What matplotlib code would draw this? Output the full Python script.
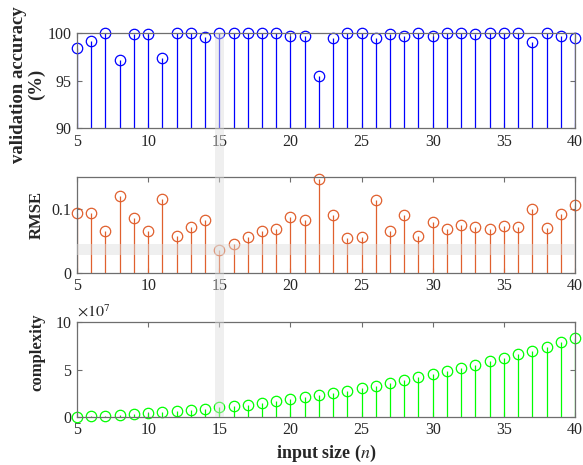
import matplotlib
matplotlib.use("Agg")
import matplotlib.pyplot as plt
from matplotlib.patches import Rectangle
from matplotlib.transforms import blended_transform_factory

# ------------------------------
# Data
# ------------------------------
input_size = list(range(5, 41))

accuracy = [98.4, 99.2, 100.0, 97.2, 99.9, 99.9, 97.4, 100.0, 100.0, 99.6,
            100.0, 100.0, 100.0, 100.0, 100.0, 99.7, 99.7, 95.5, 99.5, 100.0,
            100.0, 99.5, 99.9, 99.65, 100.0, 99.7, 100.0, 100.0, 99.9, 100.0,
            100.0, 100.0, 99.1, 100.0, 99.7, 99.45]

rmse = [0.093, 0.094, 0.065, 0.121, 0.085, 0.066, 0.115, 0.057, 0.071, 0.083,
        0.036, 0.045, 0.056, 0.066, 0.068, 0.088, 0.083, 0.147, 0.090, 0.055,
        0.056, 0.114, 0.066, 0.091, 0.057, 0.080, 0.068, 0.075, 0.072, 0.068,
        0.073, 0.072, 0.100, 0.070, 0.092, 0.106]

# complexity in units of 1e7
complexity = [0.0, 0.03, 0.07, 0.14, 0.28, 0.39, 0.50, 0.60, 0.71, 0.85,
              0.99, 1.10, 1.27, 1.48, 1.66, 1.90, 2.05, 2.26, 2.47, 2.76,
              3.00, 3.29, 3.57, 3.89, 4.20, 4.49, 4.84, 5.12, 5.51, 5.87,
              6.22, 6.64, 7.00, 7.42, 7.88, 8.30]

best_n = 15
rmse_band = (0.028, 0.045)

plt.rcParams["font.family"] = ["Liberation Serif", "DejaVu Serif"]
plt.rcParams["mathtext.fontset"] = "stix"

AXIS_COLOR = "#6e6e6e"
TEXT_COLOR = "#262626"
BAND_COLOR = "#dcdcdc"

W, H = 583, 465
fig = plt.figure(figsize=(W / 100, H / 100), dpi=100)


def make_axes(top_px, bottom_px):
    left, right = 77 / W, 575 / W
    return fig.add_axes([left, 1 - bottom_px / H, right - left, (bottom_px - top_px) / H])


def style_axes(ax):
    ax.set_xlim(5, 40)
    ax.set_xticks(range(5, 41, 5))
    for s in ax.spines.values():
        s.set_color(AXIS_COLOR)
        s.set_linewidth(0.9)
    ax.tick_params(direction="in", top=True, right=True, length=3.5,
                   width=0.8, color=AXIS_COLOR, labelsize=11.5,
                   labelcolor=TEXT_COLOR, pad=4)


def draw_stem(ax, x, y, color, bottom):
    markers, stems, base = ax.stem(x, y, bottom=bottom, basefmt=" ")
    plt.setp(stems, color=color, linewidth=0.9)
    plt.setp(markers, color=color, marker="o", markersize=7.5,
             markerfacecolor="none", markeredgewidth=0.9, clip_on=False)
    base.set_visible(False)


ax1 = make_axes(33, 128)
ax2 = make_axes(177, 272.7)
ax3 = make_axes(322.3, 416.7)

draw_stem(ax1, input_size, accuracy, "#0000ff", 90)
ax1.set_ylim(90, 100)
ax1.set_yticks([90, 95, 100])
style_axes(ax1)
ax1.set_ylabel("validation accuracy\n(%)", fontsize=13.5, fontweight="bold",
               color=TEXT_COLOR, linespacing=1.05)
ax1.yaxis.set_label_coords(-0.064, 0.46)

draw_stem(ax2, input_size, rmse, "#e0602e", 0)
ax2.set_ylim(0, 0.15)
ax2.set_yticks([0, 0.1])
ax2.set_yticklabels(["0", "0.1"])
style_axes(ax2)
ax2.set_ylabel("RMSE", fontsize=12, fontweight="bold", color=TEXT_COLOR)
ax2.yaxis.set_label_coords(-0.064, 0.60)
ax2.axhspan(rmse_band[0], rmse_band[1], color=BAND_COLOR, alpha=0.45,
            lw=0, zorder=5)

draw_stem(ax3, input_size, complexity, "#00ff00", 0)
ax3.set_ylim(0, 10)
ax3.set_yticks([0, 5, 10])
style_axes(ax3)
ax3.set_ylabel("complexity", fontsize=12, fontweight="bold", color=TEXT_COLOR)
ax3.yaxis.set_label_coords(-0.064, 0.685)
ax3.set_xlabel(r"input size ($n$)", fontsize=13, fontweight="bold",
               color=TEXT_COLOR, labelpad=3)
ax3.text(0.0, 1.015, r"$\times10^7$", transform=ax3.transAxes,
         fontsize=11.5, color=TEXT_COLOR, va="bottom", ha="left")

# vertical band marking the chosen input size, spanning all panels
trans = blended_transform_factory(ax3.transData, fig.transFigure)
fig.add_artist(Rectangle((best_n - 0.3, 1 - 417 / H), 0.6, (417 - 33) / H,
                         transform=trans, facecolor=BAND_COLOR, alpha=0.45,
                         lw=0, zorder=5))

fig.savefig("out.png", dpi=100)
